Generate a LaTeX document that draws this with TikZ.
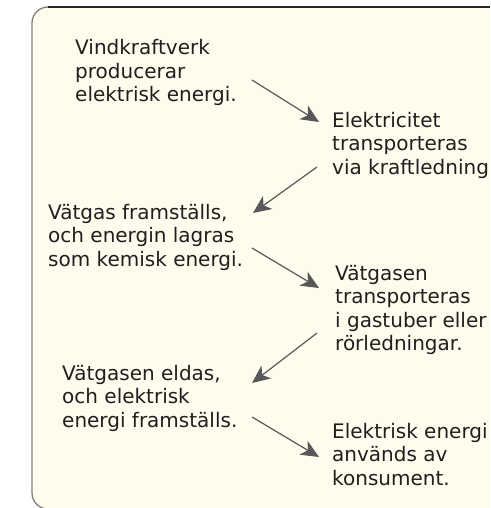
\documentclass[tikz,border=0pt]{standalone}
\usepackage{fontspec}
\setmainfont{DejaVu Sans}
\usetikzlibrary{arrows.meta}
\definecolor{gradde}{RGB}{255,252,238}
\definecolor{pilgra}{RGB}{88,88,90}

\begin{document}
\begin{tikzpicture}[x=1pt,y=-1pt,
  steg/.style={anchor=base west,align=left,inner sep=0pt,
    font=\fontsize{20}{23.5}\selectfont,text=black!88},
  pil/.style={draw=pilgra,line width=1.2pt,
    -{Stealth[length=18pt,width=16pt,inset=5pt]}}]
  \useasboundingbox (0,0) rectangle (490,508);
  \clip (0,0) rectangle (490,508);

  % ramen
  \fill[gradde,rounded corners=16pt] (32,7) rectangle (530,509);
  \draw[gray,line width=1.3pt,rounded corners=16pt] (70,7) -- (32,7) -- (32,509) -- (70,509);
  \draw[black!85,line width=1.3pt] (48,7) -- (490,7);

  % texterna (base = sista raden)
  \node[steg] (vind)   at (75,102)    {Vindkraftverk\\producerar\\elektrisk energi.};
  \node[steg] (el)     at (332,174)   {Elektricitet\\transporteras\\via kraftledning};
  \node[steg] (vatgas) at (48,266)    {Vätgas framställs,\\och energin lagras\\som kemisk energi.};
  \node[steg] (transp) at (335,350.5) {Vätgasen\\transporteras\\i gastuber eller\\rörledningar.};
  \node[steg] (eldas)  at (62,427)    {Vätgasen eldas,\\och elektrisk\\energi framställs.};
  \node[steg] (kons)   at (332,485)   {Elektrisk energi\\används av\\konsument.};

  % pilarna
  \coordinate (p1a) at (252,80);  \coordinate (p1b) at (319,122);
  \coordinate (p2a) at (317,167); \coordinate (p2b) at (253,213);
  \coordinate (p3a) at (252,248); \coordinate (p3b) at (319,288);
  \coordinate (p4a) at (317,333); \coordinate (p4b) at (252,383);
  \coordinate (p5a) at (252,417); \coordinate (p5b) at (319,457);
  \foreach \k in {1,...,5}
    \draw[pil] (p\k a) -- (p\k b);
\end{tikzpicture}
\end{document}
